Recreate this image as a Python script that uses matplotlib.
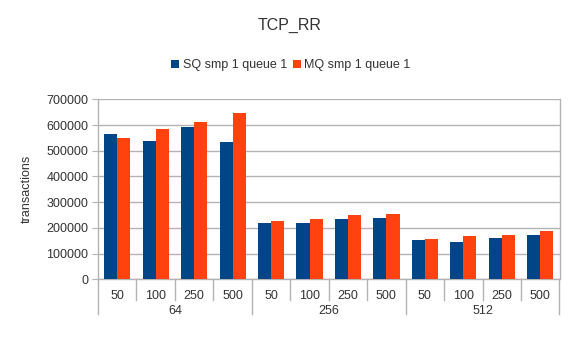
import numpy as np
import matplotlib.pyplot as plt

plt.rcParams['font.family'] = ['Liberation Sans', 'DejaVu Sans']

# message sizes (inner labels) and buffer groups (outer labels)
sizes = ["50", "100", "250", "500"]
groups = ["64", "256", "512"]

sq_vals = [565000, 538000, 593000, 534000,
           219000, 219000, 235000, 238000,
           153000, 145000, 161000, 172000]
mq_vals = [548000, 585000, 612000, 647000,
           227000, 235000, 250000, 254000,
           157000, 168000, 172000, 188000]

sq_color = "#004586"
mq_color = "#ff420e"
grid_color = "#b3b3b3"
text_color = "#333333"

fig = plt.figure(figsize=(5.83, 3.42), dpi=100)
ax = fig.add_axes([98 / 583, 1 - 279.3 / 342, (559.5 - 98) / 583, (279.3 - 99.3) / 342])

n = len(sq_vals)
x = np.arange(n)
w = 0.34
ax.bar(x - w / 2, sq_vals, w, color=sq_color, label="SQ smp 1 queue 1", zorder=3)
ax.bar(x + w / 2, mq_vals, w, color=mq_color, label="MQ smp 1 queue 1", zorder=3)

ax.set_xlim(-0.5, n - 0.5)
ax.set_ylim(0, 700000)
ax.set_yticks(np.arange(0, 700001, 100000))
ax.set_yticklabels([str(v) for v in range(0, 700001, 100000)], fontsize=9, color=text_color)
ax.yaxis.grid(True, color=grid_color, linewidth=1, zorder=0)
ax.tick_params(axis='y', length=4, color=grid_color, pad=3)

for s in ["top"]:
    ax.spines[s].set_visible(False)
for s in ["left", "right", "bottom"]:
    ax.spines[s].set_color(grid_color)
    ax.spines[s].set_linewidth(1)

# two-level category axis drawn by hand
ax.set_xticks([])
trans = ax.get_xaxis_transform()
h_px = 279.3 - 99.3
inner_y = -21 / h_px
outer_y = -35 / h_px
for i in range(n + 1):
    edge = i - 0.5
    depth = outer_y if i % 4 == 0 else inner_y
    ax.plot([edge, edge], [0, depth], transform=trans, color=grid_color,
            linewidth=1, clip_on=False)
for i in range(n):
    ax.text(i, -17 / h_px, sizes[i % 4], transform=trans, ha="center", va="center",
            fontsize=9, color=text_color)
for g, name in enumerate(groups):
    ax.text(g * 4 + 1.5, -31.5 / h_px, name, transform=trans, ha="center", va="center",
            fontsize=9, color=text_color)

ax.set_ylabel("transactions", fontsize=9, color=text_color)
ax.yaxis.set_label_coords(-65 / (559.5 - 98), 0.5)

fig.text(290 / 583, 1 - 25 / 342, "TCP_RR", ha="center", va="center",
         fontsize=11.5, color=text_color)
fig.legend(loc="center", bbox_to_anchor=(291 / 583, 1 - 65 / 342), ncol=2,
           frameon=False, fontsize=9, handlelength=0.6, handleheight=0.6,
           handletextpad=0.3, columnspacing=0.5, labelcolor=text_color)

fig.savefig("out.png", dpi=100)
